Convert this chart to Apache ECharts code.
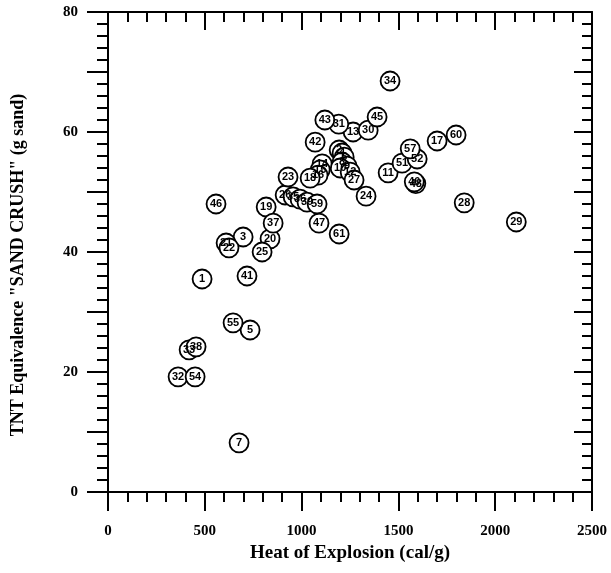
<!DOCTYPE html>
<html>
<head>
<meta charset="utf-8">
<script src="https://cdn.jsdelivr.net/npm/echarts@6/dist/echarts.min.js"></script>
<style>html,body{margin:0;padding:0;background:#fff}#c{width:611px;height:573px}</style>
</head>
<body>
<div id="c"></div>
<script>
// Compound numbers (labels), heat of explosion (cal/g), TNT equivalence (g sand)
const labels = ['2','4','6','8','9','10','12','14','15','16','18','26','35','36','39','48',
  '1','3','5','7','11','13','17','19','20','21','22','23','24','25','27','28','29','30','31','32','33','34','37','38','40','41','42','43','45','46','47','51','52','54','55','57','59','60','61'];
const heat = [1194,1209,1220,1209,1235,1199,1251,1106,1096,1085,1044,915,956,992,1028,1590,
  486,698,734,677,1447,1266,1700,817,837,610,625,930,1333,796,1271,1840,2109,1344,1192,362,419,1457,853,455,1582,718,1070,1120,1390,558,1090,1519,1597,450,646,1561,1080,1798,1194];
const tnt = [57,56.5,55.8,55,54.3,54,53.3,54.7,53.7,52.8,52.3,49.5,49.2,48.8,48.3,51.4,
  35.5,42.5,27,8.2,53.2,60,58.5,47.5,42.2,41.5,40.7,52.5,49.3,40,52,48.2,45,60.3,61.3,19.2,23.7,68.5,44.8,24.2,51.7,36,58.3,62,62.5,48,44.8,54.8,55.5,19.2,28.2,57.2,48,59.5,43];
const xTicks = [0, 500, 1000, 1500, 2000, 2500];
const yTicks = [0, 20, 40, 60, 80];

const serif = 'Liberation Serif';
const data = labels.map((l, i) => ({ value: [heat[i], tnt[i]], name: l }));
const chart = echarts.init(document.getElementById('c'));
const axisCommon = {
  axisLine: { show: true, onZero: false, lineStyle: { color: '#000', width: 2 } },
  splitLine: { show: false }
};
chart.setOption({
  animation: false,
  grid: { left: 108, right: 19, top: 12, bottom: 81 },
  xAxis: [
    Object.assign({}, axisCommon, {
      type: 'value', position: 'bottom', min: 0, max: 2500, interval: 500,
      name: 'Heat of Explosion (cal/g)', nameLocation: 'middle', nameGap: 49,
      nameTextStyle: { fontFamily: serif, fontWeight: 'bold', fontSize: 19, color: '#000' },
      axisTick: { show: true, inside: false, length: 19, lineStyle: { color: '#000', width: 2 } },
      minorTick: { show: true, splitNumber: 5, length: 10, lineStyle: { color: '#000', width: 2 } },
      axisLabel: { margin: 32, fontFamily: serif, fontWeight: 'bold', fontSize: 15, color: '#000',
        formatter: v => xTicks.includes(v) ? String(v) : '' }
    }),
    Object.assign({}, axisCommon, {
      type: 'value', position: 'top', min: 0, max: 2500, interval: 500,
      axisTick: { show: true, inside: true, length: 18, lineStyle: { color: '#000', width: 2 } },
      minorTick: { show: true, splitNumber: 5, length: 10, lineStyle: { color: '#000', width: 2 } },
      axisLabel: { show: false }
    })
  ],
  yAxis: [
    Object.assign({}, axisCommon, {
      type: 'value', position: 'left', min: 0, max: 80, interval: 10,
      name: 'TNT Equivalence "SAND CRUSH" (g sand)', nameLocation: 'middle', nameRotate: 90, nameGap: 81,
      nameTextStyle: { fontFamily: serif, fontWeight: 'bold', fontSize: 18, color: '#000', padding: [0, 26, 0, 0] },
      axisTick: { show: true, inside: false, length: 21, lineStyle: { color: '#000', width: 2 } },
      minorTick: { show: true, splitNumber: 5, length: 11, lineStyle: { color: '#000', width: 2 } },
      axisLabel: { margin: 30, fontFamily: serif, fontWeight: 'bold', fontSize: 15, color: '#000',
        formatter: v => yTicks.includes(v) ? String(v) : '' }
    }),
    Object.assign({}, axisCommon, {
      type: 'value', position: 'right', min: 0, max: 80, interval: 10,
      axisTick: { show: true, inside: true, length: 18, lineStyle: { color: '#000', width: 2 } },
      minorTick: { show: true, splitNumber: 5, length: 10, lineStyle: { color: '#000', width: 2 } },
      axisLabel: { show: false }
    })
  ],
  series: [{
    type: 'scatter',
    xAxisIndex: 0, yAxisIndex: 0,
    symbol: 'circle', symbolSize: 19,
    itemStyle: { color: '#fff', borderColor: '#000', borderWidth: 1.8, opacity: 1 },
    label: { show: true, position: 'inside', formatter: p => p.name,
      fontFamily: 'Liberation Sans', fontWeight: 'bold', fontSize: 11, color: '#000' },
    emphasis: { disabled: true },
    data: data
  }]
});
</script>
</body>
</html>
